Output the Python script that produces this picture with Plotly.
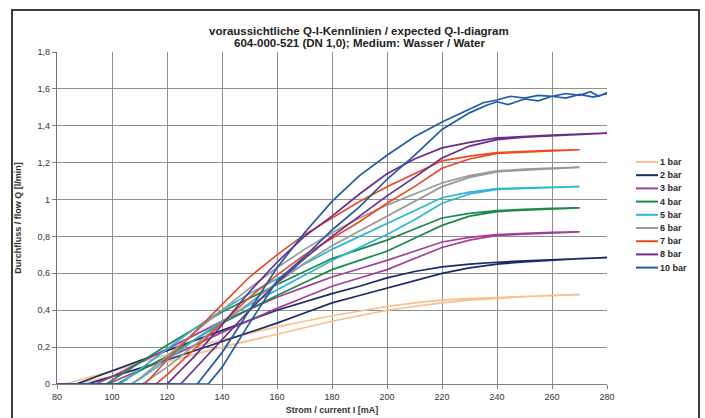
import plotly.graph_objects as go

# ---------------- data ----------------
series_labels = ["1 bar", "2 bar", "3 bar", "4 bar", "5 bar", "6 bar", "7 bar", "8 bar", "10 bar"]
series_colors = ["#F9BF8C", "#1B2A68", "#A53E98", "#1B8A48", "#2FB6D2",
                 "#999999", "#EE4A22", "#6C2B8E", "#1F5BA7"]

# rising-current branch (right) and falling-current branch (left) per pressure
i_up_1 = [80, 87, 90, 100, 110, 120, 130, 140, 150, 160, 170, 180, 190, 200, 210, 220, 230, 240, 250, 260, 270]
q_up_1 = [0, 0, 0.01, 0.04, 0.08, 0.12, 0.16, 0.20, 0.235, 0.27, 0.305, 0.34, 0.37, 0.40, 0.42, 0.44, 0.455, 0.465, 0.473, 0.48, 0.485]
i_dn_1 = [270, 260, 250, 240, 230, 220, 210, 200, 190, 180, 170, 160, 150, 140, 130, 120, 110, 100, 90, 83, 80]
q_dn_1 = [0.485, 0.482, 0.477, 0.47, 0.463, 0.455, 0.44, 0.42, 0.395, 0.37, 0.34, 0.31, 0.275, 0.24, 0.20, 0.16, 0.115, 0.07, 0.03, 0, 0]

i_up_2 = [80, 91, 100, 110, 120, 130, 140, 150, 160, 170, 180, 190, 200, 210, 220, 230, 240, 250, 260, 270, 280]
q_up_2 = [0, 0, 0.04, 0.085, 0.13, 0.18, 0.23, 0.28, 0.33, 0.385, 0.44, 0.48, 0.52, 0.56, 0.60, 0.63, 0.65, 0.662, 0.672, 0.68, 0.685]
i_dn_2 = [280, 270, 260, 250, 240, 230, 220, 210, 200, 190, 180, 170, 160, 150, 140, 130, 120, 110, 100, 90, 87, 80]
q_dn_2 = [0.685, 0.68, 0.675, 0.668, 0.66, 0.65, 0.635, 0.61, 0.575, 0.53, 0.49, 0.445, 0.40, 0.345, 0.29, 0.235, 0.18, 0.125, 0.07, 0.015, 0, 0]

i_up_3 = [80, 98, 100, 110, 120, 130, 140, 150, 160, 170, 180, 190, 200, 210, 220, 230, 240, 250, 260, 270]
q_up_3 = [0, 0, 0.01, 0.075, 0.14, 0.21, 0.28, 0.345, 0.41, 0.47, 0.53, 0.575, 0.62, 0.68, 0.74, 0.78, 0.805, 0.813, 0.82, 0.825]
i_dn_3 = [270, 260, 250, 240, 230, 220, 210, 200, 190, 180, 170, 160, 150, 140, 130, 120, 110, 100, 94, 80]
q_dn_3 = [0.825, 0.822, 0.817, 0.81, 0.795, 0.77, 0.72, 0.67, 0.625, 0.58, 0.525, 0.47, 0.405, 0.34, 0.265, 0.19, 0.115, 0.04, 0, 0]

i_up_4 = [80, 102, 110, 120, 130, 140, 150, 160, 170, 180, 190, 200, 210, 220, 230, 240, 250, 260, 270]
q_up_4 = [0, 0, 0.07, 0.15, 0.24, 0.33, 0.405, 0.48, 0.55, 0.62, 0.67, 0.72, 0.79, 0.86, 0.91, 0.935, 0.943, 0.95, 0.955]
i_dn_4 = [270, 260, 250, 240, 230, 220, 210, 200, 190, 180, 170, 160, 150, 140, 130, 120, 110, 100, 98, 80]
q_dn_4 = [0.955, 0.952, 0.947, 0.94, 0.925, 0.90, 0.84, 0.78, 0.73, 0.68, 0.61, 0.54, 0.465, 0.39, 0.30, 0.21, 0.115, 0.02, 0, 0]

i_up_5 = [80, 107, 110, 120, 130, 140, 150, 160, 170, 180, 190, 200, 210, 220, 230, 240, 250, 260, 270]
q_up_5 = [0, 0, 0.025, 0.13, 0.24, 0.34, 0.43, 0.51, 0.59, 0.67, 0.74, 0.81, 0.89, 0.98, 1.03, 1.055, 1.06, 1.065, 1.07]
i_dn_5 = [270, 260, 250, 240, 230, 220, 210, 200, 190, 180, 170, 160, 150, 140, 130, 120, 110, 103, 80]
q_dn_5 = [1.07, 1.067, 1.063, 1.06, 1.04, 1.01, 0.94, 0.87, 0.80, 0.73, 0.65, 0.57, 0.49, 0.40, 0.30, 0.19, 0.08, 0, 0]

i_up_6 = [80, 111, 120, 130, 140, 150, 160, 170, 180, 190, 200, 210, 220, 230, 240, 250, 260, 270]
q_up_6 = [0, 0, 0.09, 0.21, 0.33, 0.44, 0.55, 0.655, 0.75, 0.83, 0.91, 0.99, 1.07, 1.12, 1.15, 1.16, 1.168, 1.175]
i_dn_6 = [270, 260, 250, 240, 230, 220, 210, 200, 190, 180, 170, 160, 150, 140, 130, 120, 110, 107, 80]
q_dn_6 = [1.175, 1.17, 1.165, 1.155, 1.13, 1.09, 1.03, 0.97, 0.90, 0.82, 0.73, 0.63, 0.52, 0.40, 0.28, 0.15, 0.03, 0, 0]

i_up_7 = [80, 116, 120, 130, 140, 150, 160, 170, 180, 190, 200, 210, 220, 230, 240, 250, 260, 270]
q_up_7 = [0, 0, 0.05, 0.19, 0.33, 0.47, 0.59, 0.70, 0.79, 0.88, 0.98, 1.07, 1.17, 1.22, 1.25, 1.258, 1.265, 1.27]
i_dn_7 = [270, 260, 250, 240, 230, 220, 210, 200, 190, 180, 170, 160, 150, 140, 130, 120, 112, 80]
q_dn_7 = [1.27, 1.267, 1.262, 1.255, 1.235, 1.21, 1.14, 1.07, 0.99, 0.90, 0.81, 0.70, 0.58, 0.43, 0.28, 0.13, 0, 0]

i_up_8 = [80, 125, 130, 140, 150, 160, 170, 180, 190, 200, 210, 220, 230, 240, 250, 260, 270, 280]
q_up_8 = [0, 0, 0.08, 0.24, 0.40, 0.55, 0.68, 0.80, 0.91, 1.02, 1.12, 1.225, 1.29, 1.325, 1.338, 1.345, 1.352, 1.36]
i_dn_8 = [280, 270, 260, 250, 240, 230, 220, 210, 200, 190, 180, 170, 160, 150, 140, 130, 120, 80]
q_dn_8 = [1.36, 1.355, 1.35, 1.343, 1.334, 1.31, 1.28, 1.22, 1.14, 1.03, 0.91, 0.80, 0.66, 0.50, 0.32, 0.15, 0, 0]

i_up_10 = [80, 135, 140, 150, 160, 170, 180, 190, 200, 210, 220, 230, 236, 240, 244, 250, 255, 260, 265, 270, 275, 280]
q_up_10 = [0, 0, 0.09, 0.33, 0.56, 0.69, 0.835, 0.96, 1.11, 1.24, 1.38, 1.47, 1.51, 1.53, 1.515, 1.545, 1.535, 1.56, 1.55, 1.57, 1.555, 1.575]
i_dn_10 = [280, 277, 274, 270, 265, 260, 255, 250, 245, 240, 235, 230, 220, 210, 200, 190, 180, 170, 160, 150, 140, 131, 80]
q_dn_10 = [1.58, 1.56, 1.585, 1.565, 1.575, 1.56, 1.565, 1.55, 1.56, 1.54, 1.525, 1.49, 1.42, 1.34, 1.24, 1.13, 0.99, 0.82, 0.63, 0.40, 0.17, 0, 0]

branches = [
    (i_up_1, q_up_1, i_dn_1, q_dn_1),
    (i_up_2, q_up_2, i_dn_2, q_dn_2),
    (i_up_3, q_up_3, i_dn_3, q_dn_3),
    (i_up_4, q_up_4, i_dn_4, q_dn_4),
    (i_up_5, q_up_5, i_dn_5, q_dn_5),
    (i_up_6, q_up_6, i_dn_6, q_dn_6),
    (i_up_7, q_up_7, i_dn_7, q_dn_7),
    (i_up_8, q_up_8, i_dn_8, q_dn_8),
    (i_up_10, q_up_10, i_dn_10, q_dn_10),
]

x_tick_vals = [80, 100, 120, 140, 160, 180, 200, 220, 240, 260, 280]
y_tick_vals = [0, 0.2, 0.4, 0.6, 0.8, 1.0, 1.2, 1.4, 1.6, 1.8]
y_tick_text = ["0", "0,2", "0,4", "0,6", "0,8", "1", "1,2", "1,4", "1,6", "1,8"]

title_line1 = "voraussichtliche Q-I-Kennlinien / expected Q-I-diagram"
title_line2 = "604-000-521 (DN 1,0); Medium: Wasser / Water"
x_title = "Strom / current I [mA]"
y_title = "Durchfluss / flow Q [l/min]"

# ---------------- figure ----------------
W, H = 705, 418
L, R, T, B = 57, 98, 52, 34
PW, PH = W - L - R, H - T - B

def px_to_paper_x(px):
    return (px - L) / PW

def px_to_paper_y(py):
    return (H - B - py) / PH

FONT = "Liberation Sans, Arial, sans-serif"

fig = go.Figure()
for (iu, qu, idn, qdn), lab, col in zip(branches, series_labels, series_colors):
    fig.add_trace(go.Scatter(
        x=iu + idn, y=qu + qdn, mode="lines", name=lab,
        line=dict(color=col, width=1.7), showlegend=False,
    ))

shapes = []
annotations = []

# outer frame
shapes.append(dict(type="rect", xref="paper", yref="paper",
                   x0=px_to_paper_x(12), x1=px_to_paper_x(699),
                   y0=px_to_paper_y(440), y1=px_to_paper_y(10),
                   line=dict(color="#3c3c3c", width=2), layer="below"))

# title
annotations.append(dict(text="<b>" + title_line1 + "</b>", xref="paper", yref="paper",
                        x=px_to_paper_x(359), y=px_to_paper_y(31), showarrow=False,
                        xanchor="center", yanchor="middle",
                        font=dict(family=FONT, size=11.5, color="#222222")))
annotations.append(dict(text="<b>" + title_line2 + "</b>", xref="paper", yref="paper",
                        x=px_to_paper_x(359), y=px_to_paper_y(43.5), showarrow=False,
                        xanchor="center", yanchor="middle",
                        font=dict(family=FONT, size=11.5, color="#222222")))

# manual legend
for k, (lab, col) in enumerate(zip(series_labels, series_colors)):
    py = 162 + 13.2 * k
    shapes.append(dict(type="line", xref="paper", yref="paper",
                       x0=px_to_paper_x(636), x1=px_to_paper_x(658),
                       y0=px_to_paper_y(py), y1=px_to_paper_y(py),
                       line=dict(color=col, width=2)))
    annotations.append(dict(text="<b>" + lab + "</b>", xref="paper", yref="paper",
                            x=px_to_paper_x(658), y=px_to_paper_y(py), showarrow=False,
                            xanchor="left", yanchor="middle",
                            font=dict(family=FONT, size=9, color="#2a2a2a")))

fig.update_layout(
    width=W, height=H,
    margin=dict(l=L, r=R, t=T, b=B, autoexpand=False),
    paper_bgcolor="white", plot_bgcolor="white",
    font=dict(family=FONT, size=9, color="#333333"),
    shapes=shapes, annotations=annotations,
    showlegend=False,
)
fig.update_xaxes(
    range=[80, 280], tickvals=x_tick_vals, showgrid=True, gridcolor="#8f8f8f", gridwidth=1,
    zeroline=False, showline=True, linecolor="#808080", linewidth=1.2,
    ticks="outside", ticklen=4, tickcolor="#808080",
    tickfont=dict(family=FONT, size=9, color="#333333"),
    title=dict(text="<b>" + x_title + "</b>", font=dict(family=FONT, size=9, color="#333333"), standoff=5),
)
fig.update_yaxes(
    range=[0, 1.8], tickvals=y_tick_vals, ticktext=y_tick_text, showgrid=True,
    gridcolor="#8f8f8f", gridwidth=1,
    zeroline=False, showline=True, linecolor="#707070", linewidth=1.2,
    ticks="outside", ticklen=4, tickcolor="#808080",
    tickfont=dict(family=FONT, size=9, color="#333333"),
    title=dict(text="<b>" + y_title + "</b>", font=dict(family=FONT, size=9, color="#333333"), standoff=14),
)

fig.write_html("out.html", config={"displayModeBar": False},
               post_script="document.body.style.margin='0px';document.body.style.padding='0px';")
